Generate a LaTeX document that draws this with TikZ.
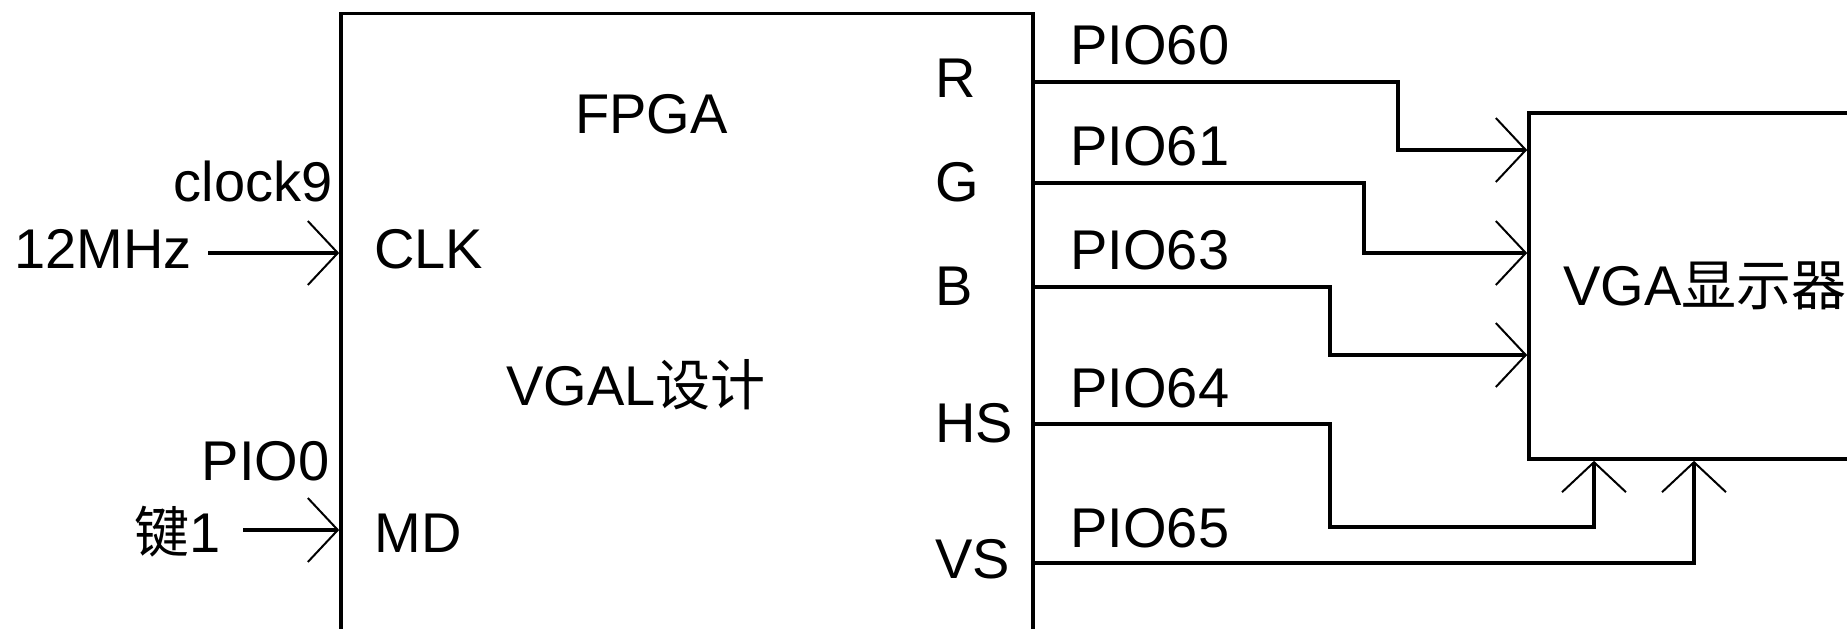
\documentclass[tikz,border=0pt]{standalone}
\usepackage{fontspec}
\setmainfont{Liberation Sans}
\newfontfamily\cjkfont{Noto Sans CJK SC}
\newcommand{\cjk}[1]{{\cjkfont\fontsize{27.5pt}{28pt}\selectfont #1}}
\usetikzlibrary{arrows.meta}
\begin{document}
\begin{tikzpicture}[x=0.5pt,y=-0.5pt,
  wire/.style={line width=1.8pt},
  inarrow/.style={wire,-{Straight Barb[length=15pt,width=32pt,line width=1pt]}},
  box/.style={draw,line width=1.8pt,inner sep=0pt},
  lbl/.style={font=\fontsize{28pt}{28pt}\selectfont,inner sep=0pt,anchor=base west},
  lble/.style={lbl,anchor=base east}]
\useasboundingbox (0,0) rectangle (1847,628);
\clip (0,0) rectangle (1847,628);
\fill[white] (0,0) rectangle (1847,628);
% boxes
\node[box,minimum width=346pt,minimum height=345pt] (fpga) at (687,186+172.5) {};
\node[box,minimum width=190pt,minimum height=173pt] (vga) at (1529+190,113+173) {};
% FPGA pins
\coordinate (clk) at (fpga.west |- 0,253);
\coordinate (md) at (fpga.west |- 0,530);
\coordinate (pr) at (fpga.east |- 0,82);
\coordinate (pg) at (fpga.east |- 0,183);
\coordinate (pb) at (fpga.east |- 0,287);
\coordinate (phs) at (fpga.east |- 0,424);
\coordinate (pvs) at (fpga.east |- 0,563);
% VGA pins
\coordinate (vr) at (vga.west |- 0,150);
\coordinate (vg) at (vga.west |- 0,253);
\coordinate (vb) at (vga.west |- 0,355);
\coordinate (vhs) at (1594,0 |- vga.south);
\coordinate (vvs) at (1694,0 |- vga.south);
% input free ends
\coordinate (clkin) at (208,253);
\coordinate (mdin) at (243,530);
% connectors
\draw[inarrow] (clkin) -- (clk);
\draw[inarrow] (mdin) -- (md);
\draw[inarrow] (pr) -| (1398,150) -- (vr);
\draw[inarrow] (pg) -| (1364,253) -- (vg);
\draw[inarrow] (pb) -| (1330,355) -- (vb);
\draw[inarrow] (phs) -| (1330,527) -| (vhs);
\draw[inarrow] (pvs) -| (vvs);
% labels
\node[lbl] (t12) at (14,268) {12MHz};
\node[lble] (tclock) at (333,201) {clock9};
\node[lbl] (tclk) at (374,268) {CLK};
\node[lble] (tpio0) at (330,480) {PIO0};
\node[lbl] (tkey) at (134,552) {\cjk{键}1};
\node[lbl] (tmd) at (374,552) {MD};
\node[lbl] (tfpga) at (575,133) {FPGA};
\node[lbl] (tvgal) at (506,405) {VGAL\cjk{设计}};
\node[lbl] (tr) at (935,97) {R};
\node[lbl] (tg) at (935,201) {G};
\node[lbl] (tb) at (935,305) {B};
\node[lbl] (ths) at (935,442) {HS};
\node[lbl] (tvs) at (935,578) {VS};
\node[lbl] (t60) at (1070,64) {PIO60};
\node[lbl] (t61) at (1070,165) {PIO61};
\node[lbl] (t63) at (1070,269) {PIO63};
\node[lbl] (t64) at (1070,407) {PIO64};
\node[lbl] (t65) at (1070,547) {PIO65};
\node[lbl] (tvga) at (1563,305) {VGA\cjk{显示器}};
\end{tikzpicture}
\end{document}
